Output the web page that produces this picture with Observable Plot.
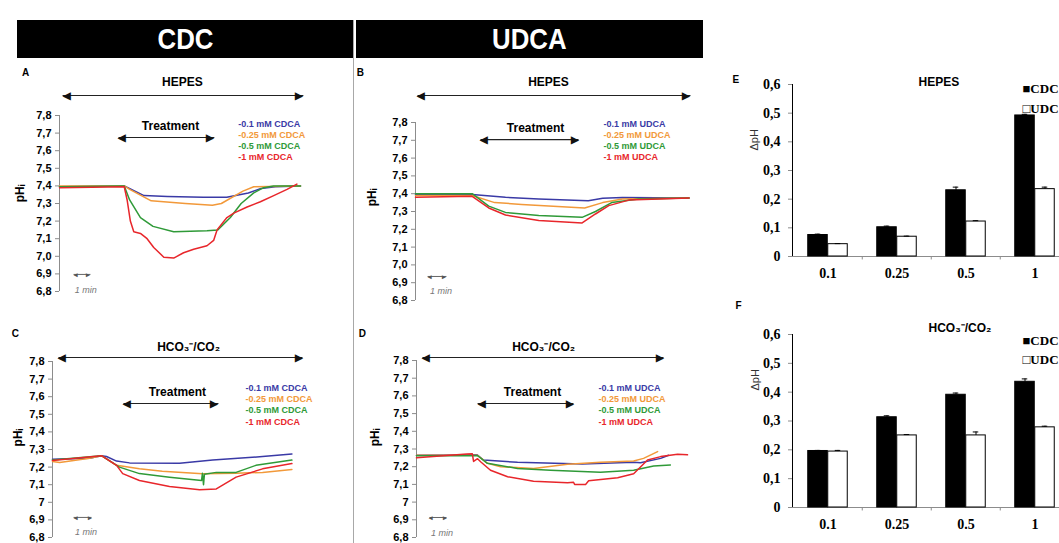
<!DOCTYPE html>
<html><head><meta charset="utf-8">
<script src="https://cdn.jsdelivr.net/npm/d3@7"></script>
<script src="https://cdn.jsdelivr.net/npm/@observablehq/plot@0.6"></script>
<style>
html,body{margin:0;padding:0;background:#fff;overflow:hidden;}
#page{position:relative;width:1059px;height:543px;overflow:hidden;font-family:"Liberation Sans",Arial,sans-serif;}
.hdr{position:absolute;top:20px;height:38px;background:#000;color:#fff;font-family:"Liberation Sans Narrow","Liberation Sans",Arial,sans-serif;font-size:30px;font-weight:bold;line-height:38px;text-align:center;}
.hdr span{display:inline-block;transform:scaleX(0.86);}
.panel{position:absolute;}
.panel svg{background:none !important;overflow:visible;max-width:none !important;}
.panel [aria-label^="y-axis"] path,.panel [aria-label^="y-axis"] line{stroke:#8c8c8c;}
.divider{position:absolute;left:353px;top:20px;width:1px;height:523px;background:#a8a8a8;}
</style></head><body>
<div id="page">
  <div class="hdr" style="left:17px;width:336px;"><span>CDC</span></div>
  <div class="hdr" style="left:356px;width:347px;"><span>UDCA</span></div>
  <div class="divider"></div>
  <div class="panel" id="pA" style="left:0;top:60px;width:350px;"></div>
  <div class="panel" id="pB" style="left:355px;top:60px;width:350px;"></div>
  <div class="panel" id="pC" style="left:0;top:305px;width:350px;"></div>
  <div class="panel" id="pD" style="left:355px;top:305px;width:350px;"></div>
  <div class="panel" id="pE" style="left:720px;top:60px;width:360px;"></div>
  <div class="panel" id="pF" style="left:720px;top:290px;width:360px;"></div>
</div>
<script>
// ---------- DATA ----------
// time in minutes, intracellular pH
const A_01  = [[0,7.395],[3.6,7.40],[3.8,7.39],[4.7,7.345],[6,7.34],[8,7.335],[9.3,7.335],[10.5,7.36],[11.2,7.385],[12,7.395],[13.4,7.40]];
const A_025 = [[0,7.40],[3.6,7.40],[3.9,7.38],[5.1,7.315],[7,7.30],[8.5,7.29],[9,7.30],[10.2,7.37],[10.8,7.395],[13.4,7.40]];
const A_05  = [[0,7.395],[3.6,7.40],[3.9,7.32],[4.5,7.22],[5.2,7.17],[6.35,7.14],[8.2,7.145],[8.8,7.15],[9.5,7.22],[10.1,7.30],[10.8,7.36],[11.35,7.39],[11.9,7.40],[13.4,7.40]];
const A_1   = [[0,7.39],[3.6,7.395],[3.76,7.32],[3.94,7.2],[4.13,7.14],[4.5,7.13],[4.87,7.10],[5.24,7.05],[5.8,6.995],[6.35,6.99],[6.9,7.02],[7.46,7.04],[8.2,7.06],[8.57,7.09],[8.76,7.15],[9.31,7.22],[9.69,7.245],[10.43,7.28],[11.17,7.31],[11.91,7.345],[12.65,7.38],[13.02,7.40],[13.2,7.41]];

const B_01  = [[0,7.395],[3.15,7.395],[5,7.38],[6.85,7.37],[9.6,7.36],[10.4,7.375],[11.5,7.378],[15.2,7.376]];
const B_025 = [[0,7.39],[3.15,7.39],[4.4,7.35],[5.9,7.34],[9.4,7.32],[10.4,7.35],[11.5,7.37],[15.2,7.376]];
const B_05  = [[0,7.40],[3.15,7.40],[4.07,7.33],[5,7.295],[6.85,7.277],[9.26,7.267],[10,7.30],[10.9,7.35],[12.4,7.37],[15.2,7.376]];
const B_1   = [[0,7.38],[3.15,7.385],[4.07,7.32],[5,7.28],[6.85,7.25],[9.26,7.236],[10,7.286],[10.74,7.333],[11.85,7.364],[15.2,7.376]];

const C_01  = [[0,7.245],[2.06,7.25],[2.72,7.265],[3.0,7.26],[3.56,7.234],[4.28,7.224],[7.06,7.222],[8.9,7.24],[11.67,7.26],[13.3,7.275]];
const C_025 = [[0,7.232],[0.4,7.226],[2.06,7.25],[2.72,7.265],[3.56,7.21],[4.83,7.19],[6.1,7.177],[8.33,7.162],[10.2,7.165],[11.67,7.17],[13.3,7.186]];
const C_05  = [[0,7.24],[2.72,7.265],[3.72,7.2],[4.83,7.163],[6.5,7.143],[8.28,7.124],[8.33,7.165],[8.39,7.10],[8.44,7.16],[9.1,7.17],[10.2,7.17],[11.3,7.21],[13.3,7.24]];
const C_1   = [[0,7.238],[2.72,7.265],[3.56,7.21],[3.9,7.163],[4.83,7.124],[6.5,7.09],[8.17,7.071],[9.1,7.076],[10.2,7.143],[11.67,7.19],[13.3,7.22]];

const D_01  = [[0,7.265],[3.37,7.267],[3.72,7.238],[5.61,7.225],[9.2,7.215],[12.06,7.225],[12.44,7.222],[13.56,7.247],[14.0,7.265]];
const D_025 = [[0,7.265],[3.37,7.265],[3.94,7.219],[4.67,7.2],[6.5,7.19],[8.39,7.214],[10.22,7.225],[12.06,7.232],[12.61,7.247],[13.39,7.285]];
const D_05  = [[0,7.262],[3.4,7.262],[3.94,7.219],[5.61,7.19],[7.44,7.18],[10.22,7.168],[12.06,7.18],[13.17,7.204],[14.1,7.21]];
const D_1   = [[0,7.25],[2.8,7.272],[3.1,7.273],[3.17,7.23],[3.39,7.245],[3.56,7.228],[4.11,7.18],[5.06,7.143],[6.5,7.118],[8.39,7.11],[8.72,7.112],[8.78,7.10],[9.39,7.10],[9.56,7.12],[11.17,7.137],[12.06,7.16],[12.83,7.238],[13.56,7.257],[14.5,7.27],[15.05,7.267]];

const yTicks = [6.8, 6.9, 7.0, 7.1, 7.2, 7.3, 7.4, 7.5, 7.6, 7.7, 7.8];
const cdcaLabels = ["-0.1 mM CDCA", "-0.25 mM CDCA", "-0.5 mM CDCA", "-1 mM CDCA"];
const udcaLabels = ["-0.1 mM UDCA", "-0.25 mM UDCA", "-0.5 mM UDCA", "-1 mM UDCA"];

// bar charts: delta pH
const concentrations = ["0.1", "0.25", "0.5", "1"];
const barTicks = [0, 0.1, 0.2, 0.3, 0.4, 0.5, 0.6];
const E_CDC = [0.075, 0.102, 0.231, 0.492];
const E_CDC_err = [0.003, 0.004, 0.011, 0.004];
const E_UDC = [0.043, 0.069, 0.122, 0.235];
const E_UDC_err = [0.002, 0.002, 0.003, 0.007];
const F_CDC = [0.196, 0.313, 0.391, 0.436];
const F_CDC_err = [0.002, 0.005, 0.006, 0.010];
const F_UDC = [0.194, 0.250, 0.250, 0.278];
const F_UDC_err = [0.004, 0.003, 0.012, 0.004];

// ---------- DRAWING ----------
const colors = ["#3a3aa6", "#f2993a", "#2f9a38", "#e8262b"];
const SANS = "Liberation Sans, Arial, sans-serif";
const SERIF = "Liberation Serif, Times New Roman, serif";
const fmtA = d => d.toFixed(1).replace(".", ",");
const fmtC = d => Math.abs(d - 7) < 1e-9 ? "7" : d.toFixed(1).replace(".", ",");

function txt(x, y, t, opts) {
  return Plot.text([{x, y, t}], {x: "x", y: "y", text: "t", ...opts});
}

function linePanel(c) {
  const marks = [
    Plot.ruleX([{x: 0}], {x: "x", y1: () => 6.8, y2: () => 7.8, stroke: "#8c8c8c", strokeWidth: 1}),
    ...c.series.map((s, i) => Plot.line(s, {x: d => d[0], y: d => d[1], stroke: colors[i], strokeWidth: 1.5})),
    txt(c.letter[0], c.letter[1], c.letter[2], {fontSize: 10, fontWeight: "bold"}),
    txt(c.envText[0], c.envText[1], c.envText[2], {fontSize: 12, fontWeight: "bold"}),
    Plot.link([c.envArrow], {x1: d => d[0], x2: d => d[1], y1: d => d[2], y2: d => d[2], stroke: "#222", strokeWidth: 1.1}),
    txt(c.envArrow[0], c.envArrow[2], "◀", {textAnchor: "start", fontSize: 10, fill: "#111"}),
    txt(c.envArrow[1], c.envArrow[2], "▶", {textAnchor: "end", fontSize: 10, fill: "#111"}),
    txt(c.treatText[0], c.treatText[1], "Treatment", {fontSize: 12, fontWeight: "bold"}),
    Plot.link([c.treatArrow], {x1: d => d[0], x2: d => d[1], y1: d => d[2], y2: d => d[2], stroke: "#222", strokeWidth: 1.1}),
    txt(c.treatArrow[0], c.treatArrow[2], "◀", {textAnchor: "start", fontSize: 10, fill: "#111"}),
    txt(c.treatArrow[1], c.treatArrow[2], "▶", {textAnchor: "end", fontSize: 10, fill: "#111"}),
    ...c.labels.map((l, i) => txt(c.legX, c.legY[i], l, {textAnchor: "start", fontSize: 9, fontWeight: "bold", fill: colors[i]})),
    Plot.link([c.scale], {x1: d => d[0], x2: d => d[1], y1: d => d[2], y2: d => d[2], stroke: "#555", strokeWidth: 0.9}),
    txt(c.scale[0], c.scale[2], "◂", {textAnchor: "start", fontSize: 7, fill: "#555"}),
    txt(c.scale[1], c.scale[2], "▸", {textAnchor: "end", fontSize: 7, fill: "#555"}),
    txt(c.scaleText[0], c.scaleText[1], "1 min", {textAnchor: "start", fontSize: 9, fontStyle: "italic", fontWeight: "normal", fill: "#777"}),
    txt(c.yLab[0], c.yLab[1], "pHᵢ", {rotate: -90, fontSize: 12, fontWeight: "bold"})
  ];
  const svg = Plot.plot({
    width: c.width, height: c.height,
    marginLeft: c.ml, marginRight: c.mr, marginTop: c.mt, marginBottom: c.mb,
    x: {domain: [0, c.xMax], axis: null},
    y: {domain: [6.8, 7.8], ticks: yTicks, tickFormat: c.fmt, tickSize: 4, tickPadding: 4, label: null},
    style: {fontFamily: SANS, fontSize: "11px", fontWeight: "bold", background: "none", color: "#000", overflow: "visible"},
    marks
  });
  document.getElementById(c.el).appendChild(svg);
}

linePanel({
  el: "pA", width: 350, height: 245, ml: 59, mr: 50, mt: 55, mb: 14, xMax: 13.4, fmt: fmtA,
  series: [A_01, A_025, A_05, A_1], labels: cdcaLabels,
  letter: [-1.89, 8.044, "A"], envText: [6.83, 7.9875, "HEPES"], envArrow: [0.17, 13.56, 7.914],
  treatText: [6.17, 7.7375], treatArrow: [3.28, 8.61, 7.675],
  legX: 9.94, legY: [7.749, 7.686, 7.624, 7.561],
  scale: [0.78, 1.72, 6.897], scaleText: [0.85, 6.806], yLab: [-2.17, 7.357]
});
linePanel({
  el: "pB", width: 350, height: 250, ml: 60, mr: 17, mt: 62, mb: 10, xMax: 15.17, fmt: fmtA,
  series: [B_01, B_025, B_05, B_1], labels: udcaLabels,
  letter: [-3.06, 8.081, "B"], envText: [7.39, 8.025, "HEPES"], envArrow: [0.11, 15.28, 7.952],
  treatText: [6.67, 7.766], treatArrow: [3.61, 9.06, 7.704],
  legX: 10.44, legY: [7.789, 7.727, 7.665, 7.603],
  scale: [0.67, 1.72, 6.935], scaleText: [0.8, 6.851], yLab: [-2.39, 7.379]
});
linePanel({
  el: "pC", width: 350, height: 238, ml: 52, mr: 55, mt: 56, mb: 6, xMax: 13.5, fmt: fmtC,
  series: [C_01, C_025, C_05, C_1], labels: cdcaLabels,
  letter: [-2.06, 7.959, "C"], envText: [7.56, 7.88, "HCO₃⁻/CO₂"], envArrow: [0.33, 13.89, 7.823],
  treatText: [6.94, 7.624], treatArrow: [3.94, 9.22, 7.561],
  legX: 10.72, legY: [7.647, 7.584, 7.522, 7.453],
  scale: [1.17, 2.17, 6.914], scaleText: [1.25, 6.828], yLab: [-1.89, 7.368]
});
linePanel({
  el: "pD", width: 350, height: 238, ml: 61, mr: 18, mt: 55, mb: 6, xMax: 15.05, fmt: fmtC,
  series: [D_01, D_025, D_05, D_1], labels: udcaLabels,
  letter: [-3.0, 7.953, "D"], envText: [7.06, 7.873, "HCO₃⁻/CO₂"], envArrow: [0.33, 13.72, 7.817],
  treatText: [6.44, 7.619], treatArrow: [3.39, 8.72, 7.557],
  legX: 10.11, legY: [7.642, 7.58, 7.517, 7.45],
  scale: [0.72, 1.67, 6.913], scaleText: [0.8, 6.827], yLab: [-2.28, 7.365]
});

const barFmt = d => d === 0 ? "0" : d.toFixed(1).replace(".", ",");

function barPanel(c) {
  const rows = concentrations.map((k, i) => ({k, cdc: c.cdc[i], ce: c.cdcErr[i], udc: c.udc[i], ue: c.udcErr[i]}));
  const half = (c.width - c.ml - c.mr) / concentrations.length / 2;
  const bw = 20;
  const svg = Plot.plot({
    width: c.width, height: c.height,
    marginLeft: c.ml, marginRight: c.mr, marginTop: c.mt, marginBottom: c.mb,
    x: {domain: concentrations, padding: 0, tickSize: 0, tickPadding: 12, label: null},
    y: {domain: [0, 0.6], ticks: barTicks, tickFormat: barFmt, tickSize: 4, tickPadding: 8, label: null, line: true},
    style: {fontFamily: SERIF, fontSize: "14px", fontWeight: "bold", background: "none", color: "#000", overflow: "visible"},
    marks: [
      Plot.ruleY([0], {stroke: "#8c8c8c"}),
      Plot.ruleX(concentrations.slice(1), {x: d => d, y1: () => 0, y2: () => -0.012, dx: -half, stroke: "#8c8c8c"}),
      Plot.barY(rows, {x: "k", y: "cdc", fill: "#000", stroke: "#000", insetLeft: half - bw, insetRight: half}),
      Plot.barY(rows, {x: "k", y: "udc", fill: "#fff", stroke: "#000", strokeWidth: 1, insetLeft: half, insetRight: half - bw}),
      Plot.ruleX(rows, {x: "k", y1: "cdc", y2: d => d.cdc + d.ce, dx: -bw / 2, stroke: "#000"}),
      Plot.tickY(rows, {x: "k", y: d => d.cdc + d.ce, insetLeft: half - bw / 2 - 3, insetRight: half + bw / 2 - 3, stroke: "#000"}),
      Plot.ruleX(rows, {x: "k", y1: "udc", y2: d => d.udc + d.ue, dx: bw / 2, stroke: "#000"}),
      Plot.tickY(rows, {x: "k", y: d => d.udc + d.ue, insetLeft: half + bw / 2 - 3, insetRight: half - bw / 2 - 3, stroke: "#000"}),
      Plot.text([c.letter], {frameAnchor: "top-left", dx: c.letterAt[0], dy: c.letterAt[1], fontFamily: SANS, fontSize: 10}),
      Plot.text([c.title], {frameAnchor: "top-left", dx: c.titleAt[0], dy: c.titleAt[1], fontFamily: SANS, fontSize: 12}),
      Plot.text(["■CDC"], {frameAnchor: "top-left", dx: c.legAt[0], dy: c.legAt[1], textAnchor: "start", fontSize: 13}),
      Plot.text(["□UDC"], {frameAnchor: "top-left", dx: c.legAt[0], dy: c.legAt[2], textAnchor: "start", fontSize: 13}),
      Plot.text(["ΔpH"], {frameAnchor: "top-left", dx: c.yLabAt[0], dy: c.yLabAt[1], rotate: -90, fontFamily: SANS, fontWeight: "normal", fontSize: 11, fill: "#333"})
    ]
  });
  document.getElementById(c.el).appendChild(svg);
}

barPanel({
  el: "pE", width: 360, height: 230, ml: 72, mr: 10, mt: 24, mb: 34,
  cdc: E_CDC, cdcErr: E_CDC_err, udc: E_UDC, udcErr: E_UDC_err,
  letter: "E", letterAt: [-60, -9], title: "HEPES", titleAt: [126, -7],
  legAt: [230, -1, 19], yLabAt: [-42, 66]
});
barPanel({
  el: "pF", width: 360, height: 253, ml: 72, mr: 10, mt: 44, mb: 36,
  cdc: F_CDC, cdcErr: F_CDC_err, udc: F_UDC, udcErr: F_UDC_err,
  letter: "F", letterAt: [-57, -33], title: "HCO₃⁻/CO₂", titleAt: [136, -11],
  legAt: [230, 1, 20], yLabAt: [-41, 56]
});
</script>
</body></html>
